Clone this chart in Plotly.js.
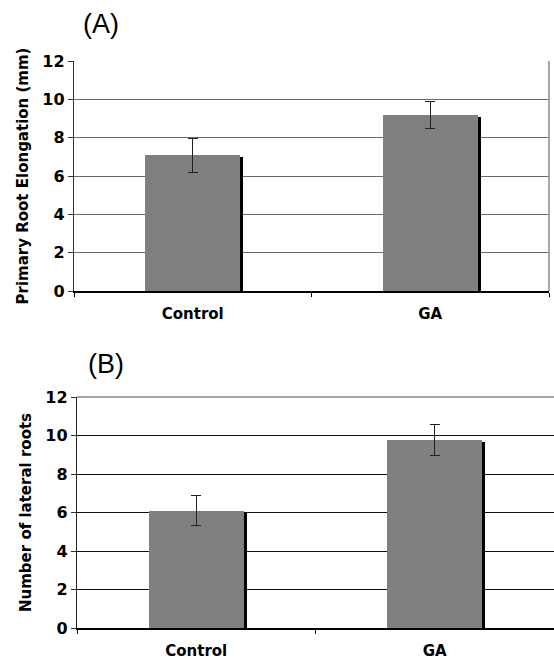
<!DOCTYPE html>
<html>
<head>
<meta charset="utf-8">
<script src="https://cdn.plot.ly/plotly-3.0.1.min.js"></script>
<style>html,body{margin:0;padding:0;background:#fff;}#chart{width:554px;height:659px;}</style>
</head>
<body>
<div id="chart"></div>
<script>
// Data
const categories = ["Control", "GA"];
const elongation = [7.08, 9.18];
const elongationErr = [0.88, 0.70];
const lateralRoots = [6.10, 9.77];
const lateralRootsErr = [0.78, 0.80];
const yTicks = [0, 2, 4, 6, 8, 10, 12];
const panelLabels = ["(A)", "(B)"];
const yTitles = ["Primary Root Elongation (mm)", "Number of lateral roots"];

const W = 554, H = 659;
const tickFont = {family: "DejaVu Sans, Verdana, sans-serif", size: 16, color: "#000", weight: "bold"};
const xTickFont = {family: "DejaVu Sans, Verdana, sans-serif", size: 15, color: "#000", weight: "bold"};
const titleFont = {family: "DejaVu Sans, Verdana, sans-serif", size: 15, color: "#000", weight: "bold"};
const shadowDrop = 0.09;

function shadowTrace(vals, xa, ya) {
  return {
    type: "bar", x: categories, y: vals.map(v => v - shadowDrop),
    width: 0.4, offset: -0.2 + 0.0125,
    marker: {color: "#000000", line: {width: 0}},
    xaxis: xa, yaxis: ya, hoverinfo: "skip", showlegend: false
  };
}
function mainTrace(vals, errs, xa, ya) {
  return {
    type: "bar", x: categories, y: vals,
    width: 0.4,
    marker: {color: "#808080", line: {width: 0}},
    error_y: {type: "data", array: errs, visible: true, color: "#222", thickness: 1.2, width: 5},
    xaxis: xa, yaxis: ya, showlegend: false
  };
}

const traces = [
  shadowTrace(elongation, "x", "y"),
  mainTrace(elongation, elongationErr, "x", "y"),
  shadowTrace(lateralRoots, "x2", "y2"),
  mainTrace(lateralRoots, lateralRootsErr, "x2", "y2")
];

function xAxis(domain, anchor) {
  return {
    domain: domain, anchor: anchor, type: "category", range: [-0.5, 1.5],
    tickson: "boundaries", ticks: "outside", ticklen: 4, tickcolor: "#000", tickwidth: 1,
    showline: true, linecolor: "#000", linewidth: 1.5, showgrid: false, zeroline: false,
    tickfont: xTickFont, ticklabelstandoff: 8, fixedrange: true
  };
}
function yAxis(domain, anchor, title, gridcolor, linecolor) {
  return {
    domain: domain, anchor: anchor, range: [0, 12], tickvals: yTicks, ticktext: yTicks.map(String),
    ticks: "outside", ticklen: 5, tickcolor: "#333", tickwidth: 1,
    showline: true, linecolor: linecolor, linewidth: 1.2,
    showgrid: true, gridcolor: gridcolor, gridwidth: 1, zeroline: false,
    tickfont: tickFont, fixedrange: true,
    title: {text: title, font: titleFont, standoff: 10}
  };
}

const layout = {
  width: W, height: H,
  margin: {l: 0, r: 0, t: 0, b: 0},
  paper_bgcolor: "#fff", plot_bgcolor: "#fff",
  barmode: "overlay", bargap: 0,
  showlegend: false,
  xaxis: xAxis([74 / W, 549 / W], "y"),
  yaxis: yAxis([1 - 291 / H, 1 - 61 / H], "x", yTitles[0], "#6a6a6a", "#333"),
  xaxis2: xAxis([77 / W, 1], "y2"),
  yaxis2: yAxis([1 - 628 / H, 1 - 397 / H], "x2", yTitles[1], "#111", "#222"),
  shapes: [
    {type: "line", xref: "x domain", yref: "y domain", x0: 1, x1: 1, y0: 0, y1: 1,
     line: {color: "#8a8a8a", width: 1.5}},
    {type: "line", xref: "x2 domain", yref: "y2 domain", x0: 0, x1: 1, y0: 1, y1: 1,
     line: {color: "#8a8a8a", width: 1.5}}
  ],
  annotations: [
    {text: panelLabels[0], xref: "paper", yref: "paper", x: 101 / W, y: 1 - 24 / H,
     xanchor: "center", yanchor: "middle", showarrow: false,
     font: {family: "Liberation Sans, Arial, sans-serif", size: 27, color: "#000"}},
    {text: panelLabels[1], xref: "paper", yref: "paper", x: 106 / W, y: 1 - 364 / H,
     xanchor: "center", yanchor: "middle", showarrow: false,
     font: {family: "Liberation Sans, Arial, sans-serif", size: 27, color: "#000"}}
  ]
};

Plotly.newPlot("chart", traces, layout, {displayModeBar: false, staticPlot: true});
</script>
</body>
</html>
